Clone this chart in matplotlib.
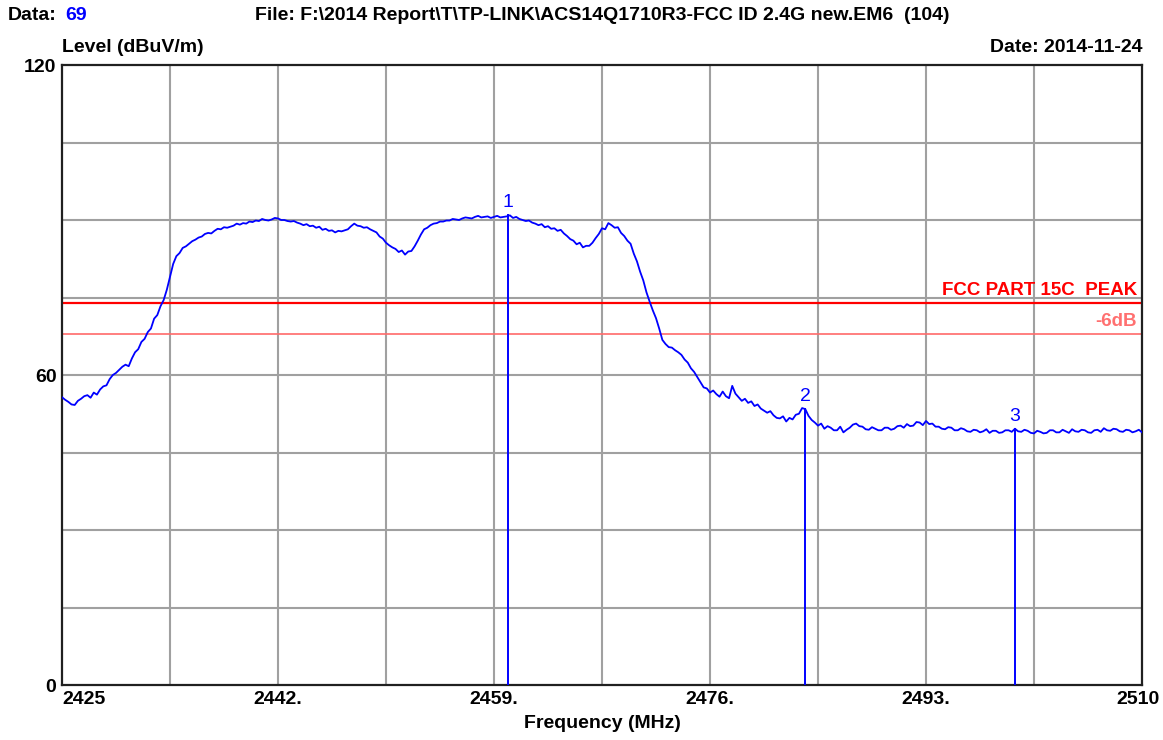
import numpy as np
import matplotlib
matplotlib.use("Agg")
import matplotlib.pyplot as plt
from matplotlib.transforms import ScaledTranslation

plt.rcParams['font.family'] = ['Liberation Sans', 'DejaVu Sans']

# sweep: 2425 .. 2510 MHz every 0.25 MHz, level in dBuV/m
freq_start, freq_stop, freq_step = 2425.0, 2510.0, 0.25
level = [
    # 2425.0 - 2429.75
    55.7, 55.2, 54.8, 54.3, 54.2, 55.0, 55.4, 55.9, 56.1, 55.6,
    56.6, 56.2, 57.2, 57.8, 58.0, 59.2, 60.0, 60.4, 61.0, 61.6,
    # 2430.0 - 2434.75
    62.0, 61.7, 63.2, 64.4, 65.0, 66.4, 67.0, 68.3, 69.0, 70.9,
    71.6, 73.3, 74.5, 76.5, 79.0, 81.5, 83.0, 83.6, 84.6, 84.9,
    # 2435.0 - 2439.75
    85.4, 85.9, 86.2, 86.6, 86.8, 87.3, 87.5, 87.4, 87.9, 88.3,
    88.2, 88.6, 88.5, 88.7, 88.9, 89.3, 89.1, 89.4, 89.3, 89.7,
    # 2440.0 - 2444.75
    89.6, 89.9, 89.8, 90.2, 90.0, 89.9, 90.1, 90.4, 90.3, 90.0,
    90.0, 89.8, 89.7, 89.8, 89.5, 89.3, 89.0, 89.2, 88.8, 88.9,
    # 2445.0 - 2449.75
    88.5, 88.7, 88.1, 88.3, 87.9, 88.0, 87.6, 87.9, 87.8, 88.0,
    88.2, 88.8, 89.3, 88.9, 88.8, 88.5, 88.6, 88.2, 87.9, 87.6,
    # 2450.0 - 2454.75
    86.8, 86.4, 85.6, 85.1, 84.7, 84.4, 83.8, 84.1, 83.3, 83.9,
    84.0, 84.9, 86.0, 87.2, 88.2, 88.5, 89.0, 89.3, 89.4, 89.7,
    # 2455.0 - 2459.75
    89.7, 89.9, 89.9, 90.2, 90.1, 90.0, 90.3, 90.5, 90.4, 90.3,
    90.6, 90.8, 90.5, 90.6, 90.7, 90.4, 90.6, 90.8, 90.5, 90.6,
    # 2460.0 - 2464.75
    90.7, 90.9, 90.4, 90.6, 90.2, 90.0, 89.8, 89.9, 89.5, 89.3,
    89.0, 89.2, 88.6, 88.8, 88.3, 88.4, 87.9, 88.1, 87.4, 86.9,
    # 2465.0 - 2469.75
    86.3, 86.0, 85.3, 85.6, 84.7, 85.0, 85.0, 85.6, 86.5, 87.3,
    88.4, 88.2, 89.4, 89.0, 88.5, 88.6, 87.5, 86.9, 86.0, 85.4,
    # 2470.0 - 2474.75
    83.5, 82.0, 80.0, 78.3, 76.0, 74.2, 72.5, 71.0, 69.0, 66.8,
    66.0, 65.4, 65.3, 64.8, 64.4, 63.9, 63.0, 62.4, 61.3, 60.6,
    # 2475.0 - 2479.75
    59.6, 58.6, 57.6, 57.4, 56.6, 57.0, 56.3, 55.8, 56.8, 55.9,
    55.5, 57.9, 56.4, 55.7, 55.0, 55.4, 54.6, 54.9, 54.0, 54.3,
    # 2480.0 - 2484.75
    53.5, 53.1, 52.7, 53.0, 52.2, 51.7, 51.6, 52.0, 51.0, 51.7,
    51.4, 52.3, 52.5, 53.6, 53.4, 52.1, 51.3, 50.8, 50.2, 50.6,
    # 2485.0 - 2489.75
    49.6, 50.1, 49.8, 49.3, 49.3, 50.0, 48.9, 49.4, 49.8, 50.4,
    50.6, 50.1, 50.0, 49.5, 49.4, 49.9, 49.6, 49.3, 49.3, 49.8,
    # 2490.0 - 2494.75
    49.8, 49.4, 49.6, 50.1, 50.2, 49.8, 50.5, 50.1, 50.2, 50.9,
    50.8, 50.3, 51.1, 50.5, 50.6, 50.0, 50.0, 49.6, 49.5, 49.9,
    # 2495.0 - 2499.75
    49.8, 49.3, 49.3, 49.7, 49.5, 49.1, 49.0, 49.4, 49.3, 48.9,
    49.1, 49.5, 48.8, 49.2, 49.2, 48.8, 48.9, 49.3, 49.3, 49.0,
    # 2500.0 - 2504.75
    49.6, 49.1, 49.0, 49.4, 49.2, 48.8, 48.7, 49.2, 49.0, 48.7,
    48.8, 49.3, 49.3, 48.9, 48.9, 49.4, 49.1, 48.8, 49.5, 49.1,
    # 2505.0 - 2509.75
    49.0, 49.4, 49.3, 48.9, 48.8, 49.3, 49.4, 49.0, 49.7, 49.3,
    49.2, 49.6, 49.5, 49.1, 49.0, 49.4, 49.3, 48.9, 49.1, 49.4,
    # 2510.0
    48.9,
]
freq = np.arange(freq_start, freq_stop + freq_step / 2, freq_step)

marker_ids = ["1", "2", "3"]
marker_freq = [2460.1, 2483.5, 2500.0]
marker_level = [90.9, 53.4, 49.6]

limit_peak = 74.0
limit_margin = 68.0

x_ticks = [2425, 2442, 2459, 2476, 2493, 2510]
x_ticklabels = ["2425", "2442.", "2459.", "2476.", "2493.", "2510"]
y_ticks = [0, 60, 120]

fig = plt.figure(figsize=(11.63, 7.40), dpi=100)
ax = fig.add_axes([62 / 1163, 1 - 685 / 740, 1080 / 1163, 620 / 740])

# grid: 10 divisions in x, 8 in y
for gx in np.linspace(freq_start, freq_stop, 11)[1:-1]:
    ax.axvline(gx, color="#a0a0a0", lw=1.5, zorder=1)
for gy in np.linspace(0, 120, 9)[1:-1]:
    ax.axhline(gy, color="#a0a0a0", lw=1.5, zorder=1)

ax.axhline(limit_peak, color="#ff0000", lw=1.6, zorder=2)
ax.axhline(limit_margin, color="#ff6a6a", lw=1.2, zorder=2)
ax.text(2509.6, limit_peak + 0.8, "FCC PART 15C  PEAK", color="#ff0000",
        fontsize=13.5, fontweight="bold", ha="right", va="bottom")
ax.text(2509.6, limit_margin + 0.8, "-6dB", color="#ff7070",
        fontsize=13.5, fontweight="bold", ha="right", va="bottom")

ax.plot(freq, level, color="#0000ff", lw=1.3, zorder=3)

for mid, mf, ml in zip(marker_ids, marker_freq, marker_level):
    ax.plot([mf, mf], [0, ml], color="#0000ff", lw=1.4, zorder=3)
    ax.text(mf, ml + 0.8, mid, color="#0000ff", fontsize=14,
            ha="center", va="bottom")

ax.set_xlim(freq_start, freq_stop)
ax.set_ylim(0, 120)
ax.set_xticks(x_ticks)
ax.set_xticklabels(x_ticklabels, fontsize=14, fontweight="bold")
ax.set_yticks(y_ticks)
ax.set_yticklabels([str(v) for v in y_ticks], fontsize=14, fontweight="bold")
ax.tick_params(length=0, pad=4)
xl = ax.get_xticklabels()
xl[0].set_ha("left")
xl[-1].set_ha("right")
xl[-1].set_transform(xl[-1].get_transform() + ScaledTranslation(0.18, 0, fig.dpi_scale_trans))
for s in ax.spines.values():
    s.set_linewidth(1.6)
    s.set_color("#202020")

ax.set_xlabel("Frequency (MHz)", fontsize=14, fontweight="bold", labelpad=5)

fig.text(8 / 1163, 1 - 15 / 740, "Data:", fontsize=14, fontweight="bold", va="center")
fig.text(65 / 1163, 1 - 15 / 740, "69", fontsize=14, fontweight="bold",
         color="#0000ff", va="center")
fig.text(255 / 1163, 1 - 15 / 740,
         "File: F:\\2014 Report\\T\\TP-LINK\\ACS14Q1710R3-FCC ID 2.4G new.EM6  (104)",
         fontsize=14, fontweight="bold", va="center")
fig.text(62 / 1163, 1 - 47 / 740, "Level (dBuV/m)", fontsize=14, fontweight="bold", va="center")
fig.text(1142 / 1163, 1 - 47 / 740, "Date: 2014-11-24", fontsize=14, fontweight="bold",
         va="center", ha="right")

fig.savefig("out.png", dpi=100, facecolor="white")
